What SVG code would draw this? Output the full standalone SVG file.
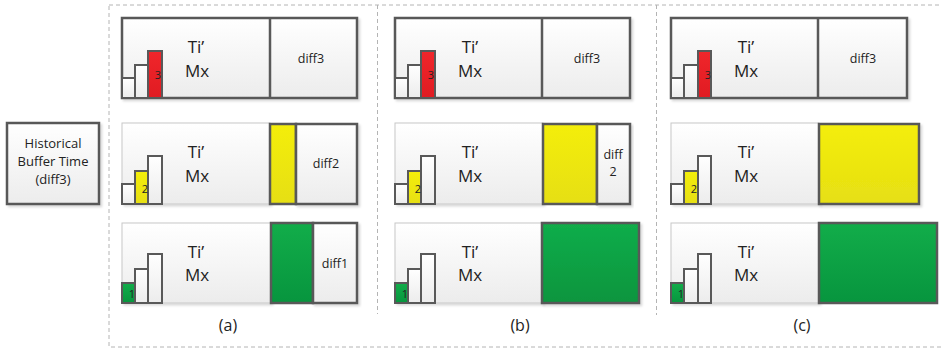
<svg xmlns="http://www.w3.org/2000/svg" width="941" height="350" viewBox="0 0 941 350">
<defs>
<linearGradient id="gBox" x1="0" y1="0" x2="0" y2="1"><stop offset="0" stop-color="#ffffff"/><stop offset="1" stop-color="#ececec"/></linearGradient>
<linearGradient id="gRed" x1="0" y1="0" x2="0" y2="1"><stop offset="0" stop-color="#f0262b"/><stop offset="1" stop-color="#e01b22"/></linearGradient>
<linearGradient id="gYel" x1="0" y1="0" x2="0" y2="1"><stop offset="0" stop-color="#f4ee0a"/><stop offset="1" stop-color="#e6df14"/></linearGradient>
<linearGradient id="gGrn" x1="0" y1="0" x2="0" y2="1"><stop offset="0" stop-color="#12ad4a"/><stop offset="1" stop-color="#07953e"/></linearGradient>
<filter id="sh" x="-5%" y="-5%" width="115%" height="120%"><feDropShadow dx="2" dy="2" stdDeviation="1" flood-color="#000" flood-opacity="0.15"/></filter>
</defs>
<style>
.dash{fill:none;stroke:#b4b4b4;stroke-width:1;stroke-dasharray:4 3}
.main{fill:url(#gBox);stroke:#595959;stroke-width:2.5}
.light{fill:url(#gBox);stroke:#c8c8c8;stroke-width:1}
.bar{fill:url(#gBox);stroke:#595959;stroke-width:2}
.cell{fill:url(#gBox);stroke:#595959;stroke-width:2.5}
.red{fill:url(#gRed);stroke:#595959;stroke-width:2}
.yel{fill:url(#gYel);stroke:#595959;stroke-width:2.5}
.grn{fill:url(#gGrn);stroke:#595959;stroke-width:2.5}
.ybar{fill:url(#gYel);stroke:#595959;stroke-width:2}
.gbar{fill:url(#gGrn);stroke:#595959;stroke-width:2}
text{font-family:"Open Sans","Liberation Sans",sans-serif;fill:#222;text-anchor:middle}
.big{font-size:17px}
.sm{font-size:12.5px}
.num{font-size:11px}
.lab{font-size:16px}
.hist{font-size:13px}
</style>

<g id="frame">
<rect class="dash" x="109" y="5" width="840" height="342"/>
<line class="dash" x1="377.5" y1="5" x2="377.5" y2="314"/>
<line class="dash" x1="656.5" y1="5" x2="656.5" y2="315"/>
</g>

<g id="historical">
<rect class="main" x="7" y="123" width="92" height="81" filter="url(#sh)"/>
<text class="hist" x="53" y="148">Historical</text>
<text class="hist" x="53" y="166">Buffer Time</text>
<text class="hist" x="53" y="184">(diff3)</text>
</g>

<!-- Panel (a) -->
<g id="a1">
<rect class="main" x="122" y="18" width="235" height="80" filter="url(#sh)"/>
<line x1="270" y1="18" x2="270" y2="98" stroke="#595959" stroke-width="2.5"/>
<rect class="bar" x="122" y="78" width="13" height="20"/>
<rect class="bar" x="135" y="65" width="13" height="33"/>
<rect class="red" x="148" y="51" width="14" height="47"/>
<text class="num" x="158" y="79">3</text>
<text class="big" x="196" y="53">Ti’</text>
<text class="big" x="197" y="77">Mx</text>
<text class="sm" x="311" y="63">diff3</text>
</g>
<g id="a2">
<rect class="light" x="122" y="123" width="148" height="81" filter="url(#sh)"/>
<rect class="yel" x="270" y="124" width="26" height="80"/>
<rect class="cell" x="296" y="124" width="61" height="80" filter="url(#sh)"/>
<rect class="bar" x="122" y="184" width="13" height="20"/>
<rect class="ybar" x="135" y="171" width="13" height="33"/>
<rect class="bar" x="148" y="156" width="14" height="48"/>
<text class="num" x="145" y="193">2</text>
<text class="big" x="196" y="158">Ti’</text>
<text class="big" x="197" y="182">Mx</text>
<text class="sm" x="326" y="168">diff2</text>
</g>
<g id="a3">
<rect class="light" x="122" y="223" width="149" height="80" filter="url(#sh)"/>
<rect class="grn" x="271" y="223" width="42" height="80"/>
<rect class="cell" x="313" y="223" width="44" height="80" filter="url(#sh)"/>
<rect class="gbar" x="122" y="283" width="13" height="20"/>
<rect class="bar" x="135" y="269" width="13" height="34"/>
<rect class="bar" x="148" y="254" width="14" height="49"/>
<text class="num" x="132" y="298">1</text>
<text class="big" x="196" y="258">Ti’</text>
<text class="big" x="197" y="281">Mx</text>
<text class="sm" x="335" y="268">diff1</text>
</g>
<text id="la" class="lab" x="228" y="331">(a)</text>

<!-- Panel (b) -->
<g id="b1">
<rect class="main" x="395" y="18" width="235" height="80" filter="url(#sh)"/>
<line x1="542" y1="18" x2="542" y2="98" stroke="#595959" stroke-width="2.5"/>
<rect class="bar" x="395" y="78" width="13" height="20"/>
<rect class="bar" x="408" y="65" width="13" height="33"/>
<rect class="red" x="421" y="51" width="14" height="47"/>
<text class="num" x="431" y="79">3</text>
<text class="big" x="470" y="53">Ti’</text>
<text class="big" x="470" y="77">Mx</text>
<text class="sm" x="587" y="63">diff3</text>
</g>
<g id="b2">
<rect class="light" x="395" y="123" width="148" height="81" filter="url(#sh)"/>
<rect class="yel" x="543" y="124" width="54" height="80"/>
<rect class="cell" x="597" y="124" width="33" height="80" filter="url(#sh)"/>
<rect class="bar" x="395" y="184" width="13" height="20"/>
<rect class="ybar" x="408" y="171" width="13" height="33"/>
<rect class="bar" x="421" y="156" width="14" height="48"/>
<text class="num" x="418" y="193">2</text>
<text class="big" x="470" y="158">Ti’</text>
<text class="big" x="470" y="182">Mx</text>
<text class="sm" x="613" y="159">diff</text>
<text class="sm" x="613" y="176">2</text>
</g>
<g id="b3">
<rect class="light" x="395" y="223" width="147" height="80" filter="url(#sh)"/>
<rect class="grn" x="542" y="223" width="97" height="80" filter="url(#sh)"/>
<rect class="gbar" x="395" y="283" width="13" height="20"/>
<rect class="bar" x="408" y="269" width="13" height="34"/>
<rect class="bar" x="421" y="254" width="14" height="49"/>
<text class="num" x="405" y="298">1</text>
<text class="big" x="470" y="258">Ti’</text>
<text class="big" x="470" y="281">Mx</text>
</g>
<text id="lb" class="lab" x="520" y="331">(b)</text>

<!-- Panel (c) -->
<g id="c1">
<rect class="main" x="671" y="18" width="236" height="80" filter="url(#sh)"/>
<line x1="818" y1="18" x2="818" y2="98" stroke="#595959" stroke-width="2.5"/>
<rect class="bar" x="671" y="78" width="13" height="20"/>
<rect class="bar" x="684" y="65" width="14" height="33"/>
<rect class="red" x="698" y="51" width="13" height="47"/>
<text class="num" x="708" y="79">3</text>
<text class="big" x="746" y="53">Ti’</text>
<text class="big" x="746" y="77">Mx</text>
<text class="sm" x="863" y="63">diff3</text>
</g>
<g id="c2">
<rect class="light" x="671" y="123" width="148" height="81" filter="url(#sh)"/>
<rect class="yel" x="819" y="124" width="100" height="80" filter="url(#sh)"/>
<rect class="bar" x="671" y="184" width="13" height="20"/>
<rect class="ybar" x="684" y="171" width="14" height="33"/>
<rect class="bar" x="698" y="156" width="13" height="48"/>
<text class="num" x="694" y="193">2</text>
<text class="big" x="746" y="158">Ti’</text>
<text class="big" x="746" y="182">Mx</text>
</g>
<g id="c3">
<rect class="light" x="671" y="223" width="148" height="80" filter="url(#sh)"/>
<rect class="grn" x="819" y="223" width="118" height="80"/>
<rect class="gbar" x="671" y="283" width="13" height="20"/>
<rect class="bar" x="684" y="269" width="14" height="34"/>
<rect class="bar" x="698" y="254" width="13" height="49"/>
<text class="num" x="681" y="298">1</text>
<text class="big" x="746" y="258">Ti’</text>
<text class="big" x="746" y="281">Mx</text>
</g>
<text id="lc" class="lab" x="802" y="331">(c)</text>

<g id="connectors"/>
</svg>
